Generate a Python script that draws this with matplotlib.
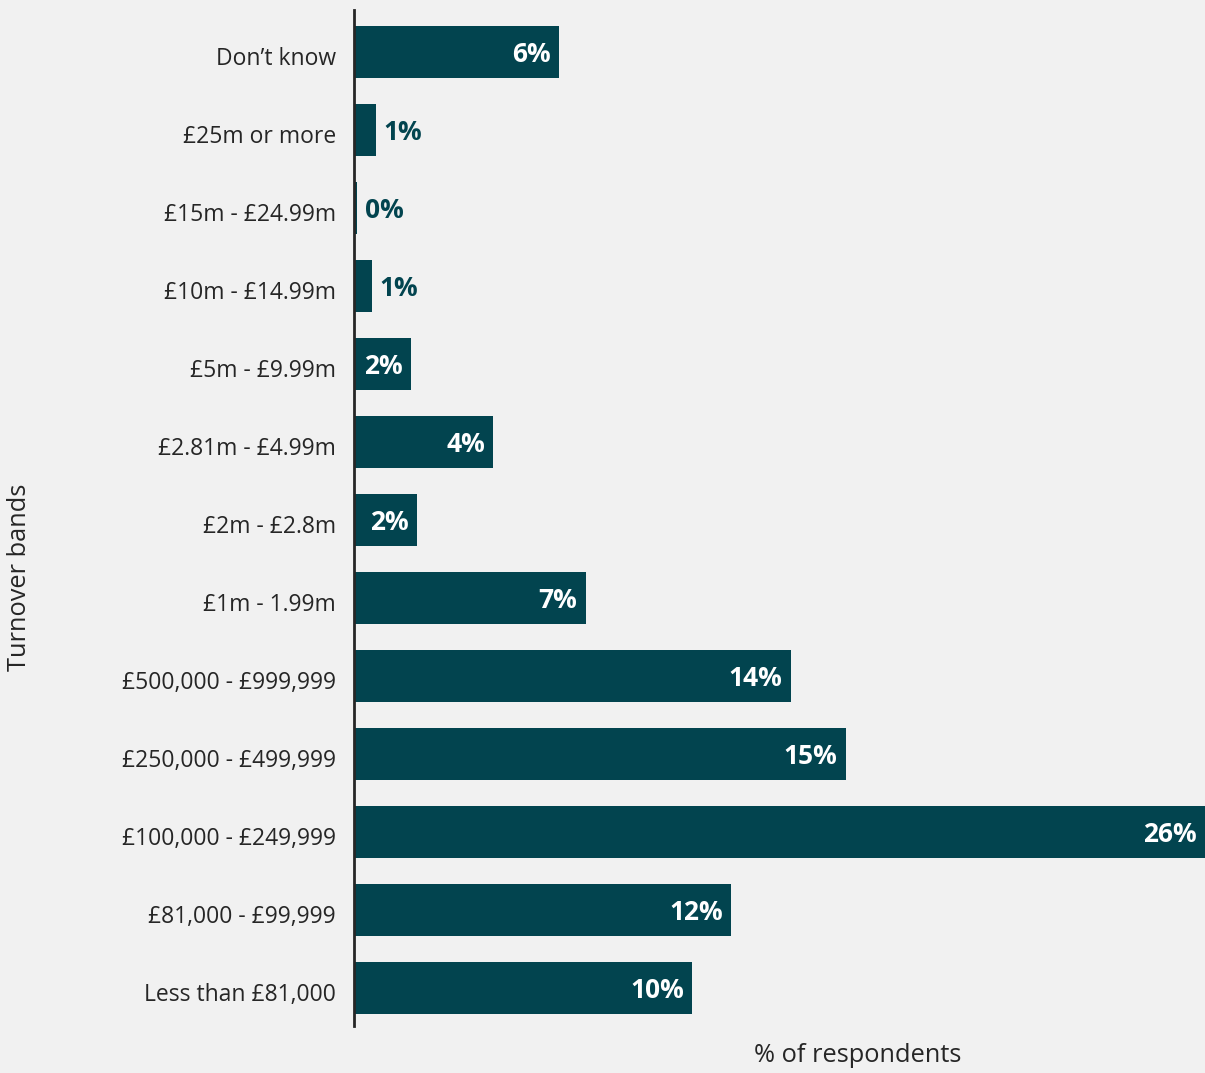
"""
Turnover bands of respondents, horizontal bar chart.
"""

import matplotlib
matplotlib.use("Agg")
import matplotlib.pyplot as plt
from matplotlib.transforms import ScaledTranslation

# bottom to top, as drawn
bands = [
    "Less than £81,000",
    "£81,000 - £99,999",
    "£100,000 - £249,999",
    "£250,000 - £499,999",
    "£500,000 - £999,999",
    "£1m - 1.99m",
    "£2m - £2.8m",
    "£2.81m - £4.99m",
    "£5m - £9.99m",
    "£10m - £14.99m",
    "£15m - £24.99m",
    "£25m or more",
    "Don’t know",
]
share = [10.5, 11.71, 26.43, 15.28, 13.57, 7.2, 1.96, 4.32, 1.77, 0.56, 0.09, 0.68, 6.37]

BG = "#f1f1f1"
BAR = "#02444f"
TXT = "#262626"

plt.rcParams["font.family"] = ["Open Sans", "DejaVu Sans"]


def main():
    fig = plt.figure(figsize=(12.05, 10.73), dpi=100, facecolor=BG)
    ax = fig.add_axes([354 / 1205, 1 - 1026 / 1073, 851 / 1205, 1016 / 1073])
    ax.set_facecolor(BG)

    ypos = list(range(len(bands)))
    ax.barh(ypos, share, height=0.667, color=BAR)

    for y, v in zip(ypos, share):
        label = f"{v:.0f}%"
        if v >= 1.5:
            ax.annotate(label, (v, y), xytext=(-6, -1.8), textcoords="offset points",
                        ha="right", va="center", color="white",
                        fontsize=19, fontweight="bold")
        else:
            ax.annotate(label, (v, y), xytext=(5.5, -1.8), textcoords="offset points",
                        ha="left", va="center", color=BAR,
                        fontsize=19, fontweight="bold")

    ax.set_xlim(0, max(share))
    ax.set_ylim(-0.49, len(bands) - 0.46)
    ax.set_yticks(ypos)
    ax.set_yticklabels(bands, fontsize=16.5, color=TXT)
    ax.tick_params(axis="y", length=0, pad=13)
    ax.set_xticks([])
    shift = ScaledTranslation(0, -3 / 72, fig.dpi_scale_trans)
    for lbl in ax.get_yticklabels():
        lbl.set_transform(lbl.get_transform() + shift)

    for side in ["top", "right", "bottom"]:
        ax.spines[side].set_visible(False)
    ax.spines["left"].set_color(TXT)
    ax.spines["left"].set_linewidth(2)

    fig.text(858 / 1205, 1 - 1056 / 1073, "% of respondents", ha="center",
             va="center", fontsize=18.3, color=TXT)
    fig.text(20 / 1205, 1 - 577 / 1073, "Turnover bands", ha="center",
             va="center", rotation=90, fontsize=18.3, color=TXT)

    fig.savefig("out.png", dpi=100, facecolor=BG)


if __name__ == "__main__":
    main()
